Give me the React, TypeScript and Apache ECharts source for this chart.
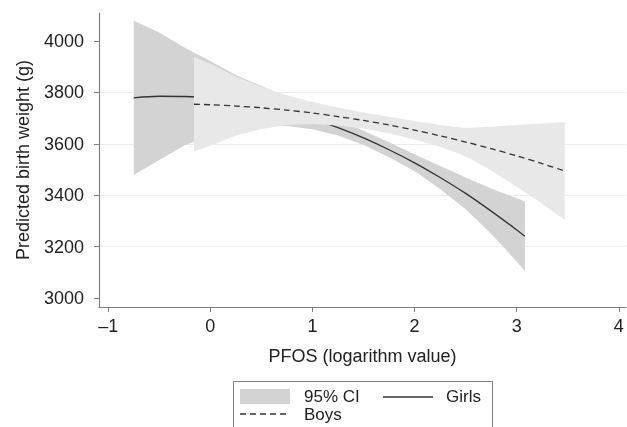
import React, { useEffect, useRef } from "react";
import * as echarts from "echarts";

const xTicks = [-1, 0, 1, 2, 3, 4];
const yTicks = [3000, 3200, 3400, 3600, 3800, 4000];

const girlsX = [-0.75, -0.5, -0.25, 0, 0.25, 0.5, 0.75, 1, 1.25, 1.5, 1.75, 2, 2.25, 2.5, 2.75, 3, 3.08];
const girlsFit = [3779, 3785, 3784, 3778, 3766, 3748, 3725, 3697, 3663, 3623, 3577, 3526, 3469, 3407, 3338, 3265, 3240];
const girlsLow = [3479, 3537, 3594, 3630, 3661, 3670, 3669, 3657, 3632, 3595, 3548, 3493, 3424, 3345, 3250, 3142, 3104];
const girlsHigh = [4079, 4033, 3974, 3922, 3868, 3825, 3781, 3737, 3694, 3651, 3606, 3559, 3514, 3469, 3426, 3388, 3376];

const boysX = [-0.16, 0, 0.25, 0.5, 0.75, 1, 1.25, 1.5, 1.75, 2, 2.25, 2.5, 2.75, 3, 3.25, 3.47];
const boysFit = [3754, 3752, 3747, 3740, 3731, 3720, 3706, 3691, 3673, 3653, 3631, 3607, 3581, 3553, 3523, 3494];
const boysLow = [3570, 3592, 3632, 3658, 3673, 3677, 3671, 3660, 3641, 3617, 3589, 3552, 3496, 3433, 3367, 3304];
const boysHigh = [3938, 3912, 3862, 3822, 3789, 3763, 3741, 3722, 3705, 3689, 3673, 3662, 3666, 3673, 3679, 3684];

const FONT = "Liberation Sans, Arial, Helvetica, sans-serif";
const TEXT = "#222";
const AXIS = "#808080";
const LINE = "#333";

function band(xs: number[], lo: number[], hi: number[], color: string, z: number) {
  return {
    type: "custom",
    z,
    silent: true,
    clip: true,
    data: xs.map((x, i) => [x, lo[i], hi[i]]),
    encode: { x: 0, y: [1, 2] },
    renderItem: (params: any, api: any) => {
      if (params.dataIndex !== 0) return null;
      const pts: number[][] = [];
      for (let i = 0; i < xs.length; i++) pts.push(api.coord([xs[i], hi[i]]));
      for (let i = xs.length - 1; i >= 0; i--) pts.push(api.coord([xs[i], lo[i]]));
      return { type: "polygon", shape: { points: pts }, style: { fill: color, stroke: null } };
    },
  };
}

export default function App() {
  const ref = useRef<HTMLDivElement>(null);
  useEffect(() => {
    const chart = echarts.init(ref.current!, null, { renderer: "svg" });
    const option: any = {
      animation: false,
      textStyle: { fontFamily: FONT },
      grid: { left: 99, right: 1, top: 13, bottom: 120, containLabel: false },
      xAxis: {
        type: "value",
        min: -1.09,
        max: 4.07,
        name: "PFOS (logarithm value)",
        nameLocation: "middle",
        nameGap: 40,
        nameTextStyle: { fontSize: 18, color: TEXT, fontFamily: FONT },
        axisLine: { onZero: false, lineStyle: { color: AXIS, width: 1.2 } },
        axisTick: { show: true, length: 5, lineStyle: { color: AXIS }, customValues: xTicks },
        axisLabel: {
          fontSize: 18,
          color: TEXT,
          margin: 10,
          fontFamily: FONT,
          customValues: xTicks,
          formatter: (v: number) => String(v).replace("-", "\u2013"),
        },
        splitLine: { show: false },
      },
      yAxis: {
        type: "value",
        min: 2965,
        max: 4109,
        name: "Predicted birth weight (g)",
        nameLocation: "middle",
        nameGap: 67,
        nameTextStyle: { fontSize: 18, color: TEXT, fontFamily: FONT },
        axisLine: { show: true, onZero: false, lineStyle: { color: AXIS, width: 1.2 } },
        axisTick: { show: true, length: 5, lineStyle: { color: AXIS }, customValues: yTicks },
        axisLabel: {
          fontSize: 18,
          color: TEXT,
          margin: 15,
          fontFamily: FONT,
          customValues: yTicks,
          formatter: (v: number) => String(v),
        },
        splitLine: {
          show: true,
          showMinLine: false,
          showMaxLine: false,
          lineStyle: { color: "#ececec", width: 1 },
        },
      },
      series: [
        band(girlsX, girlsLow, girlsHigh, "#d3d3d3", 1),
        {
          type: "line",
          z: 2,
          silent: true,
          symbol: "none",
          smooth: 0.3,
          data: girlsX.map((x, i) => [x, girlsFit[i]]),
          lineStyle: { color: LINE, width: 1.3 },
        },
        band(boysX, boysLow, boysHigh, "#e8e8e8", 3),
        {
          type: "line",
          z: 4,
          silent: true,
          symbol: "none",
          smooth: 0.3,
          data: boysX.map((x, i) => [x, boysFit[i]]),
          lineStyle: { color: LINE, width: 1.3, type: [6, 4] },
        },
      ],
      graphic: [
        {
          type: "rect",
          left: 233,
          top: 381,
          shape: { width: 259, height: 60 },
          style: { fill: "#fff", stroke: "#808080", lineWidth: 1 },
        },
        {
          type: "rect",
          left: 240,
          top: 389,
          shape: { width: 50, height: 15 },
          style: { fill: "#d3d3d3" },
        },
        {
          type: "text",
          left: 304,
          top: 388,
          style: { text: "95% CI", fontSize: 17, lineHeight: 17, fill: TEXT, fontFamily: FONT },
        },
        {
          type: "line",
          shape: { x1: 383, y1: 397, x2: 433, y2: 397 },
          style: { stroke: LINE, lineWidth: 1.3 },
        },
        {
          type: "text",
          left: 446,
          top: 388,
          style: { text: "Girls", fontSize: 17, lineHeight: 17, fill: TEXT, fontFamily: FONT },
        },
        {
          type: "line",
          shape: { x1: 240, y1: 414, x2: 290, y2: 414 },
          style: { stroke: LINE, lineWidth: 1.3, lineDash: [6, 4] },
        },
        {
          type: "text",
          left: 304,
          top: 406,
          style: { text: "Boys", fontSize: 17, lineHeight: 17, fill: TEXT, fontFamily: FONT },
        },
      ],
    };
    chart.setOption(option);
    return () => chart.dispose();
  }, []);
  return <div ref={ref} style={{ position: "fixed", left: 0, top: 0, width: 627, height: 427 }} />;
}
